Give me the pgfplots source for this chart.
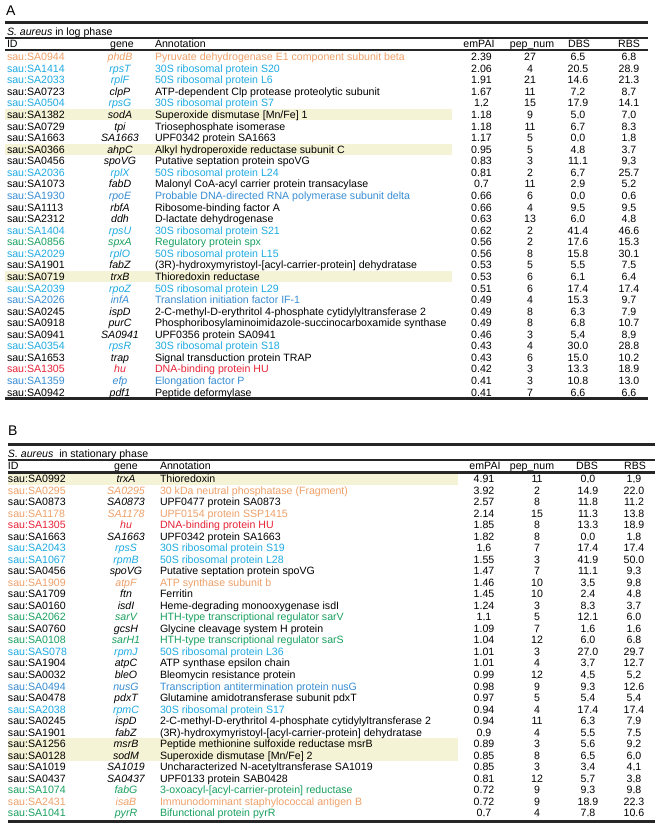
\documentclass[border=0pt]{standalone}
\usepackage{pgfplots}
\usepackage{pgfplotstable}
\pgfplotsset{compat=1.18}
\usepackage{fontspec}
\setmainfont{Liberation Sans}
\definecolor{cor}{RGB}{238,160,105}
\definecolor{ccy}{RGB}{30,170,225}
\definecolor{cbl}{RGB}{55,140,210}
\definecolor{cgr}{RGB}{25,160,95}
\definecolor{crd}{RGB}{230,35,55}
\definecolor{chl}{RGB}{245,243,214}
\newcommand\fs{\fontsize{10.6}{12}\selectfont}
\tikzset{txt/.style={font=\fs, inner sep=0pt, outer sep=0pt}}

\pgfplotstableread{
emPAI pep DBS RBS
2.39 27 6.5 6.8
2.06 4 20.5 28.9
1.91 21 14.6 21.3
1.67 11 7.2 8.7
1.2 15 17.9 14.1
1.18 9 5.0 7.0
1.18 11 6.7 8.3
1.17 5 0.0 1.8
0.95 5 4.8 3.7
0.83 3 11.1 9.3
0.81 2 6.7 25.7
0.7 11 2.9 5.2
0.66 6 0.0 0.6
0.66 4 9.5 9.5
0.63 13 6.0 4.8
0.62 2 41.4 46.6
0.56 2 17.6 15.3
0.56 8 15.8 30.1
0.53 5 5.5 7.5
0.53 6 6.1 6.4
0.51 6 17.4 17.4
0.49 4 15.3 9.7
0.49 8 6.3 7.9
0.49 8 6.8 10.7
0.46 3 5.4 8.9
0.43 4 30.0 28.8
0.43 6 15.0 10.2
0.42 3 13.3 18.9
0.41 3 10.8 13.0
0.41 7 6.6 6.6
}\tabA

\pgfplotstableread{
emPAI pep DBS RBS
4.91 11 0.0 1.9
3.92 2 14.9 22.0
2.57 8 11.8 11.2
2.14 15 11.3 13.8
1.85 8 13.3 18.9
1.82 8 0.0 1.8
1.6 7 17.4 17.4
1.55 3 41.9 50.0
1.47 7 11.1 9.3
1.46 10 3.5 9.8
1.45 10 2.4 4.8
1.24 3 8.3 3.7
1.1 5 12.1 6.0
1.09 7 1.6 1.6
1.04 12 6.0 6.8
1.01 3 27.0 29.7
1.01 4 3.7 12.7
0.99 12 4.5 5.2
0.98 9 9.3 12.6
0.97 5 5.4 5.4
0.94 4 17.4 17.4
0.94 11 6.3 7.9
0.9 4 5.5 7.5
0.89 3 5.6 9.2
0.85 8 6.5 6.0
0.85 3 3.4 4.1
0.81 12 5.7 3.8
0.72 9 9.3 9.8
0.72 9 18.9 22.3
0.7 4 7.8 10.6
}\tabB

% row macros: index, colour, ID, gene, annotation
\newcommand{\rowA}[5]{%
  \node[txt,text=#2,anchor=base west] at (axis cs:7,{60.6+11.57*#1}) {#3};
  \node[txt,text=#2,anchor=base,font=\fs\itshape] at (axis cs:120,{60.6+11.57*#1}) {#4};
  \node[txt,text=#2,anchor=base west] at (axis cs:155,{60.6+11.57*#1}) {#5};
}
\newcommand{\rowB}[5]{%
  \node[txt,text=#2,anchor=base west] at (axis cs:8,{482.5+11.53*#1}) {#3};
  \node[txt,text=#2,anchor=base,font=\fs\itshape] at (axis cs:126,{482.5+11.53*#1}) {#4};
  \node[txt,text=#2,anchor=base west] at (axis cs:160,{482.5+11.53*#1}) {#5};
}
\newcommand{\hlA}[1]{\fill[chl] (axis cs:5,{56.8+11.57*#1-5.8}) rectangle (axis cs:452,{56.8+11.57*#1+5.8});}
\newcommand{\hlB}[1]{\fill[chl] (axis cs:8,{478.7+11.53*#1-5.8}) rectangle (axis cs:458,{478.7+11.53*#1+5.8});}

\pgfplotsset{numcol/.style={only marks, mark=*, mark size=0.01pt, mark options={draw=none,fill=none},
  nodes near coords, point meta=explicit symbolic,
  every node near coord/.append style={txt, anchor=base, text=black}}}

\begin{document}
\begin{tikzpicture}
\begin{axis}[hide axis, scale only axis, width=660pt, height=826pt,
  xmin=0, xmax=660, ymin=0, ymax=826, y dir=reverse, clip=false]
\path (axis cs:0,0) rectangle (axis cs:660,826);
% highlights
\hlA{5}\hlA{8}\hlA{19}
\hlB{0}\hlB{23}\hlB{24}
% ---------- panel A ----------
\node[anchor=base west, inner sep=0pt, font=\fontsize{14}{16}\selectfont] at (axis cs:6,16) {A};
\draw[line width=2.2pt, black!85] (axis cs:5,22.5) -- (axis cs:648,22.5);
\node[txt,anchor=base west] at (axis cs:7,35.4) {\textit{S. aureus} in log phase};
\draw[line width=2pt, black!85] (axis cs:5,37.7) -- (axis cs:648,37.7);
\node[txt,anchor=base west] at (axis cs:7,47.8) {ID};
\node[txt,anchor=base] at (axis cs:122,47.8) {gene};
\node[txt,anchor=base west] at (axis cs:155,47.8) {Annotation};
\node[txt,anchor=base] at (axis cs:479,47.8) {emPAI};
\node[txt,anchor=base] at (axis cs:532,47.8) {pep\_num};
\node[txt,anchor=base] at (axis cs:579,47.8) {DBS};
\node[txt,anchor=base] at (axis cs:629,47.8) {RBS};
\draw[line width=2.4pt, black!85] (axis cs:5,49.8) -- (axis cs:648,49.8);
\draw[line width=3pt, black!85] (axis cs:5,398.7) -- (axis cs:648,398.7);

\rowA{0}{cor}{sau:SA0944}{phdB}{Pyruvate dehydrogenase E1 component subunit beta}
\rowA{1}{ccy}{sau:SA1414}{rpsT}{30S ribosomal protein S20}
\rowA{2}{ccy}{sau:SA2033}{rplF}{50S ribosomal protein L6}
\rowA{3}{black}{sau:SA0723}{clpP}{ATP-dependent Clp protease proteolytic subunit}
\rowA{4}{ccy}{sau:SA0504}{rpsG}{30S ribosomal protein S7}
\rowA{5}{black}{sau:SA1382}{sodA}{Superoxide dismutase [Mn/Fe] 1}
\rowA{6}{black}{sau:SA0729}{tpi}{Triosephosphate isomerase}
\rowA{7}{black}{sau:SA1663}{SA1663}{UPF0342 protein SA1663}
\rowA{8}{black}{sau:SA0366}{ahpC}{Alkyl hydroperoxide reductase subunit C}
\rowA{9}{black}{sau:SA0456}{spoVG}{Putative septation protein spoVG}
\rowA{10}{ccy}{sau:SA2036}{rplX}{50S ribosomal protein L24}
\rowA{11}{black}{sau:SA1073}{fabD}{Malonyl CoA-acyl carrier protein transacylase}
\rowA{12}{cbl}{sau:SA1930}{rpoE}{Probable DNA-directed RNA polymerase subunit delta}
\rowA{13}{black}{sau:SA1113}{rbfA}{Ribosome-binding factor A}
\rowA{14}{black}{sau:SA2312}{ddh}{D-lactate dehydrogenase}
\rowA{15}{ccy}{sau:SA1404}{rpsU}{30S ribosomal protein S21}
\rowA{16}{cgr}{sau:SA0856}{spxA}{Regulatory protein spx}
\rowA{17}{ccy}{sau:SA2029}{rplO}{50S ribosomal protein L15}
\rowA{18}{black}{sau:SA1901}{fabZ}{(3R)-hydroxymyristoyl-[acyl-carrier-protein] dehydratase}
\rowA{19}{black}{sau:SA0719}{trxB}{Thioredoxin reductase}
\rowA{20}{ccy}{sau:SA2039}{rpoZ}{50S ribosomal protein L29}
\rowA{21}{cbl}{sau:SA2026}{infA}{Translation initiation factor IF-1}
\rowA{22}{black}{sau:SA0245}{ispD}{2-C-methyl-D-erythritol 4-phosphate cytidylyltransferase 2}
\rowA{23}{black}{sau:SA0918}{purC}{Phosphoribosylaminoimidazole-succinocarboxamide synthase}
\rowA{24}{black}{sau:SA0941}{SA0941}{UPF0356 protein SA0941}
\rowA{25}{ccy}{sau:SA0354}{rpsR}{30S ribosomal protein S18}
\rowA{26}{black}{sau:SA1653}{trap}{Signal transduction protein TRAP}
\rowA{27}{crd}{sau:SA1305}{hu}{DNA-binding protein HU}
\rowA{28}{cbl}{sau:SA1359}{efp}{Elongation factor P}
\rowA{29}{black}{sau:SA0942}{pdf1}{Peptide deformylase}

\addplot[numcol] table[x expr=481.5, y expr=60.6+11.57*\coordindex, meta=emPAI] {\tabA};
\addplot[numcol] table[x expr=530, y expr=60.6+11.57*\coordindex, meta=pep] {\tabA};
\addplot[numcol] table[x expr=578, y expr=60.6+11.57*\coordindex, meta=DBS] {\tabA};
\addplot[numcol] table[x expr=629, y expr=60.6+11.57*\coordindex, meta=RBS] {\tabA};

% ---------- panel B ----------
\node[anchor=base west, inner sep=0pt, font=\fontsize{14}{16}\selectfont] at (axis cs:8,435.7) {B};
\draw[line width=2.2pt, black!85] (axis cs:8,444.5) -- (axis cs:655,444.5);
\node[txt,anchor=base west] at (axis cs:8,457.3) {\textit{S. aureus}\ \ in stationary phase};
\draw[line width=2pt, black!85] (axis cs:8,459.5) -- (axis cs:655,459.5);
\node[txt,anchor=base west] at (axis cs:8,469.8) {ID};
\node[txt,anchor=base] at (axis cs:126,469.8) {gene};
\node[txt,anchor=base west] at (axis cs:160,469.8) {Annotation};
\node[txt,anchor=base] at (axis cs:485,469.8) {emPAI};
\node[txt,anchor=base] at (axis cs:532,469.8) {pep\_num};
\node[txt,anchor=base] at (axis cs:587,469.8) {DBS};
\node[txt,anchor=base] at (axis cs:635,469.8) {RBS};
\draw[line width=2.4pt, black!85] (axis cs:8,472.4) -- (axis cs:655,472.4);
\draw[line width=3pt, black!85] (axis cs:8,821.2) -- (axis cs:655,821.2);

\rowB{0}{black}{sau:SA0992}{trxA}{Thioredoxin}
\rowB{1}{cor}{sau:SA0295}{SA0295}{30 kDa neutral phosphatase (Fragment)}
\rowB{2}{black}{sau:SA0873}{SA0873}{UPF0477 protein SA0873}
\rowB{3}{cor}{sau:SA1178}{SA1178}{UPF0154 protein SSP1415}
\rowB{4}{crd}{sau:SA1305}{hu}{DNA-binding protein HU}
\rowB{5}{black}{sau:SA1663}{SA1663}{UPF0342 protein SA1663}
\rowB{6}{ccy}{sau:SA2043}{rpsS}{30S ribosomal protein S19}
\rowB{7}{ccy}{sau:SA1067}{rpmB}{50S ribosomal protein L28}
\rowB{8}{black}{sau:SA0456}{spoVG}{Putative septation protein spoVG}
\rowB{9}{cor}{sau:SA1909}{atpF}{ATP synthase subunit b}
\rowB{10}{black}{sau:SA1709}{ftn}{Ferritin}
\rowB{11}{black}{sau:SA0160}{isdI}{Heme-degrading monooxygenase isdI}
\rowB{12}{cgr}{sau:SA2062}{sarV}{HTH-type transcriptional regulator sarV}
\rowB{13}{black}{sau:SA0760}{gcsH}{Glycine cleavage system H protein}
\rowB{14}{cgr}{sau:SA0108}{sarH1}{HTH-type transcriptional regulator sarS}
\rowB{15}{ccy}{sau:SAS078}{rpmJ}{50S ribosomal protein L36}
\rowB{16}{black}{sau:SA1904}{atpC}{ATP synthase epsilon chain}
\rowB{17}{black}{sau:SA0032}{bleO}{Bleomycin resistance protein}
\rowB{18}{cbl}{sau:SA0494}{nusG}{Transcription antitermination protein nusG}
\rowB{19}{black}{sau:SA0478}{pdxT}{Glutamine amidotransferase subunit pdxT}
\rowB{20}{ccy}{sau:SA2038}{rpmC}{30S ribosomal protein S17}
\rowB{21}{black}{sau:SA0245}{ispD}{2-C-methyl-D-erythritol 4-phosphate cytidylyltransferase 2}
\rowB{22}{black}{sau:SA1901}{fabZ}{(3R)-hydroxymyristoyl-[acyl-carrier-protein] dehydratase}
\rowB{23}{black}{sau:SA1256}{msrB}{Peptide methionine sulfoxide reductase msrB}
\rowB{24}{black}{sau:SA0128}{sodM}{Superoxide dismutase [Mn/Fe] 2}
\rowB{25}{black}{sau:SA1019}{SA1019}{Uncharacterized N-acetyltransferase SA1019}
\rowB{26}{black}{sau:SA0437}{SA0437}{UPF0133 protein SAB0428}
\rowB{27}{cgr}{sau:SA1074}{fabG}{3-oxoacyl-[acyl-carrier-protein] reductase}
\rowB{28}{cor}{sau:SA2431}{isaB}{Immunodominant staphylococcal antigen B}
\rowB{29}{cgr}{sau:SA1041}{pyrR}{Bifunctional protein pyrR}

\addplot[numcol] table[x expr=484, y expr=482.5+11.53*\coordindex, meta=emPAI] {\tabB};
\addplot[numcol] table[x expr=537, y expr=482.5+11.53*\coordindex, meta=pep] {\tabB};
\addplot[numcol] table[x expr=588, y expr=482.5+11.53*\coordindex, meta=DBS] {\tabB};
\addplot[numcol] table[x expr=634, y expr=482.5+11.53*\coordindex, meta=RBS] {\tabB};
\end{axis}
\end{tikzpicture}
\end{document}
